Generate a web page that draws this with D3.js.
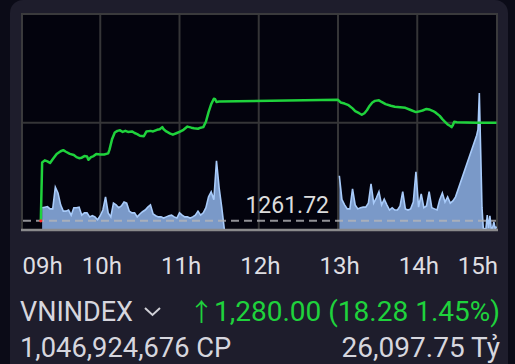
<!DOCTYPE html>
<html>
<head>
<meta charset="utf-8">
<script src="https://cdn.jsdelivr.net/npm/d3@7"></script>
<style>
  body { margin: 0; background: #0b0b17; }
  svg { display: block; font-family: Roboto, "Noto Sans", sans-serif; }
</style>
</head>
<body>
<div class="chart"></div>
<script>
// Data
const refPrice = 1261.72;
const gridPrice = 1280;

const priceTimes = ["09:15","09:16","09:18","09:20","09:22","09:24","09:27","09:30","09:32","09:34","09:37","09:40","09:42","09:44","09:46","09:48","09:50","09:51","09:53","09:55","09:57","10:00","10:03","10:06","10:07","10:09","10:11","10:13","10:15","10:17","10:19","10:21","10:24","10:26","10:28","10:30","10:33","10:35","10:38","10:40","10:43","10:45","10:47","10:48","10:50","10:53","10:55","10:58","11:00","11:03","11:06","11:09","11:11","11:14","11:16","11:18","11:20","11:22","11:24","11:26","11:27","11:28","11:30",
  "13:00","13:02","13:05","13:08","13:11","13:13","13:16","13:18","13:20","13:22","13:24","13:26","13:28","13:31","13:33","13:36","13:40","13:43","13:47","13:51","13:55","13:59","14:01","14:04","14:07","14:09","14:12","14:14","14:17","14:19","14:21","14:23","14:25","14:26","14:27","14:28","14:30","14:45","15:00"];
const priceValues = [1261.72,1272.6,1273.0,1272.8,1272.5,1273.2,1274.2,1274.7,1274.9,1274.6,1274.2,1274.0,1273.6,1273.4,1273.5,1273.8,1273.7,1273.1,1273.6,1273.8,1274.2,1274.1,1274.1,1274.3,1275.0,1277.0,1278.2,1278.5,1278.6,1278.3,1278.5,1278.3,1278.4,1278.1,1277.9,1277.6,1277.5,1278.4,1278.5,1278.4,1278.7,1278.8,1279.2,1278.8,1278.4,1278.0,1277.8,1278.1,1278.3,1278.7,1279.3,1279.1,1279.0,1278.9,1279.1,1279.2,1280.2,1282.0,1283.5,1284.5,1284.4,1283.9,1284.0,
  1284.3,1283.8,1283.6,1283.3,1282.7,1282.2,1281.8,1281.5,1281.8,1282.4,1283.2,1283.8,1284.1,1284.2,1283.9,1283.5,1283.2,1283.0,1282.9,1282.8,1282.4,1282.0,1282.1,1282.3,1282.6,1282.5,1282.2,1281.9,1281.3,1280.7,1280.2,1279.7,1279.4,1279.2,1279.6,1280.2,1280.1,1280.0,1280.0];

// volume, million shares, one value every 2 minutes
const volStep = 2;
const volAmStart = "09:16";
const volAm = [3.9,4.0,4.1,3.7,3.7,7.5,6.5,4.4,3.3,3.3,3.5,2.6,3.9,3.9,4.0,2.6,3.0,3.0,2.3,2.5,2.3,1.8,2.5,3.5,5.8,3.0,2.3,4.7,4.4,3.9,4.2,4.9,4.7,3.3,3.0,3.0,2.3,2.8,3.2,3.5,4.0,4.4,2.8,2.5,2.3,2.3,2.1,2.3,2.5,2.6,2.3,2.1,3.0,2.6,2.3,2.3,2.1,2.3,2.6,3.3,2.6,3.0,3.9,5.8,6.7,5.3,12.1,7.4,3.9,0];
const volPmStart = "13:01";
const volPm = [9.5,5.3,4.4,3.7,3.7,7.2,4.4,3.7,3.9,4.0,4.0,4.7,8.1,4.7,5.6,6.7,4.4,5.4,4.4,3.5,3.9,3.5,3.5,4.2,6.7,3.7,3.5,3.7,4.9,10.2,4.0,6.3,3.9,4.2,6.7,3.9,3.7,3.5,5.3,6.5,4.9,5.8,4.7,5.1,5.8];
const volCloseTimes = ["14:45","14:46","14:47","14:48","14:49","14:50","14:51","14:52","14:53","14:54","14:55","14:56","14:57","14:58","14:59","15:00"];
const volClose = [16.6,17.6,24.0,14.0,4.0,0.3,0.2,0.2,2.6,0.3,2.5,0.3,0.3,1.4,0.2,0.6];

const hourTicks = [9,10,11,12,13,14,15];
const hourLabels = ["09h","10h","11h","12h","13h","14h","15h"];

const indexName = "VNINDEX";
const upArrow = "↑";
const lastText = "1,280.00 (18.28 1.45%)";
const volumeText = "1,046,924,676 CP";
const valueText = "26,097.75 Tỷ";

// helpers
const toMin = s => { const [h, m] = s.split(":").map(Number); return h * 60 + m; };

const prices = priceTimes.map((t, i) => ({t: toMin(t), v: priceValues[i]}));
const vols = [];
volAm.forEach((v, i) => vols.push({t: toMin(volAmStart) + i * volStep, v}));
vols.push({t: 12 * 60, v: null});
volPm.forEach((v, i) => vols.push({t: toMin(volPmStart) + i * volStep, v}));
volCloseTimes.forEach((t, i) => vols.push({t: toMin(t), v: volClose[i]}));

// SVG
const W = 515, H = 364;
const plot = ({left: 21, right: 498, top: 13, bottom: 231});
const svg = d3.select(".chart").append("svg")
    .attr("width", W)
    .attr("height", H);

// card
svg.append("rect")
    .attr("x", 10).attr("y", 0)
    .attr("width", 498).attr("height", H + 20)
    .attr("rx", 13)
    .attr("fill", "#1e1d2c");

// plot frame
svg.append("rect")
    .attr("x", plot.left + 1).attr("y", plot.top + 1)
    .attr("width", plot.right - plot.left - 2).attr("height", plot.bottom - plot.top - 2)
    .attr("fill", "#03030d")
    .attr("stroke", "#3a3a3c")
    .attr("stroke-width", 2);

// Scaling
const x = d3.scaleLinear().domain([9 * 60, 15 * 60]).range([21, 496.5]);
const y = d3.scaleLinear().domain([1260, 1300.5]).range([230, 13]);
const yVol = d3.scaleLinear().domain([0, 38]).range([230, 13]);

// grid
svg.append("g")
    .selectAll("line")
    .data(hourTicks.slice(1, -1))
    .join("line")
    .attr("x1", d => x(d * 60)).attr("x2", d => x(d * 60))
    .attr("y1", plot.top + 2).attr("y2", plot.bottom - 1)
    .attr("stroke", "#353537")
    .attr("stroke-width", 2);

svg.append("line")
    .attr("x1", plot.left + 2).attr("x2", plot.right - 2)
    .attr("y1", y(gridPrice)).attr("y2", y(gridPrice))
    .attr("stroke", "#353537")
    .attr("stroke-width", 2);

// volume
const volArea = d3.area()
    .defined(d => d.v != null)
    .x(d => x(d.t))
    .y0(yVol(0))
    .y1(d => yVol(d.v));
const volLine = d3.line()
    .defined(d => d.v != null)
    .x(d => x(d.t))
    .y(d => yVol(d.v));

svg.append("path")
    .datum(vols)
    .attr("d", volArea)
    .attr("fill", "#7a99c8");
svg.append("path")
    .datum(vols)
    .attr("d", volLine)
    .attr("fill", "none")
    .attr("stroke", "#a8cbfa")
    .attr("stroke-width", 1.6);

// bottom axis line
svg.append("line")
    .attr("x1", plot.left).attr("x2", plot.right)
    .attr("y1", plot.bottom - 1).attr("y2", plot.bottom - 1)
    .attr("stroke", "#8a8a8c")
    .attr("stroke-width", 2.5);

// reference line
svg.append("line")
    .attr("x1", plot.left + 2).attr("x2", plot.right - 2)
    .attr("y1", y(refPrice)).attr("y2", y(refPrice))
    .attr("stroke", "#b4b4b8")
    .attr("stroke-opacity", 0.8)
    .attr("stroke-width", 2)
    .attr("stroke-dasharray", "8,5");

svg.append("text")
    .attr("x", x(13 * 60) - 9)
    .attr("y", y(refPrice) - 8)
    .attr("text-anchor", "end")
    .attr("font-size", 23)
    .attr("fill", "#dcdcdc")
    .text(refPrice.toFixed(2));

// price line
svg.append("path")
    .datum(prices)
    .attr("d", d3.line().x(d => x(d.t)).y(d => y(d.v)))
    .attr("fill", "none")
    .attr("stroke", "#1fd23c")
    .attr("stroke-width", 2.5)
    .attr("stroke-linejoin", "round");

svg.append("circle")
    .attr("cx", x(prices[0].t)).attr("cy", y(prices[0].v))
    .attr("r", 1.6)
    .attr("fill", "#ff2a2a");

// Axis
const xAxis = d3.axisBottom(x)
    .tickValues(hourTicks.map(h => h * 60))
    .tickFormat((d, i) => hourLabels[i])
    .tickSize(0)
    .tickPadding(27);
const gx = svg.append("g")
    .attr("transform", "translate(0," + (plot.bottom - 1) + ")")
    .call(xAxis);
gx.select(".domain").remove();
gx.selectAll("text")
    .attr("font-family", "Roboto, sans-serif")
    .attr("font-size", 24)
    .attr("fill", "#dedee2")
    .attr("text-anchor", (d, i) => i === 0 ? "start" : i === hourTicks.length - 1 ? "end" : "middle")
    .attr("dx", 1);

// footer
svg.append("text")
    .attr("x", 20).attr("y", 321)
    .attr("font-size", 27)
    .attr("fill", "#d6d6de")
    .text(indexName);

svg.append("path")
    .attr("d", "M145,308 L152.5,315 L160,308")
    .attr("fill", "none")
    .attr("stroke", "#cfcfd6")
    .attr("stroke-width", 2);

const last = svg.append("text")
    .attr("x", 500).attr("y", 321)
    .attr("text-anchor", "end")
    .attr("font-size", 28)
    .attr("fill", "#1fd23c");
last.append("tspan")
    .attr("font-family", "'Noto Sans CJK SC', 'DejaVu Sans', sans-serif")
    .attr("font-size", 25)
    .text(upArrow);
last.append("tspan")
    .text(lastText);

svg.append("text")
    .attr("x", 20).attr("y", 357)
    .attr("font-size", 27.3)
    .attr("fill", "#d6d6de")
    .text(volumeText);

svg.append("text")
    .attr("x", 500).attr("y", 357)
    .attr("text-anchor", "end")
    .attr("font-size", 28)
    .attr("fill", "#d6d6de")
    .text(valueText);
</script>
</body>
</html>
